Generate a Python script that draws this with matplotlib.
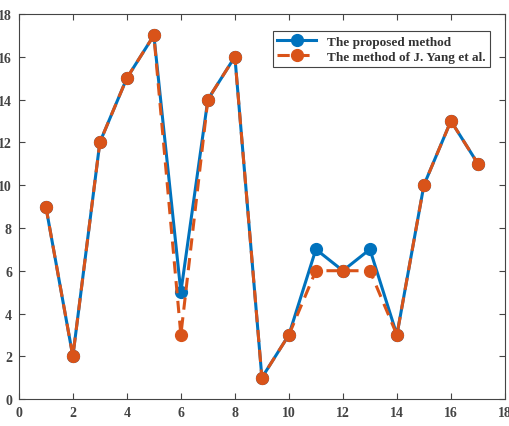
import numpy as np
import matplotlib.pyplot as plt

x = np.arange(1, 18)
proposed = [9, 2, 12, 15, 17, 5, 14, 16, 1, 3, 7, 6, 7, 3, 10, 13, 11]
yang = [9, 2, 12, 15, 17, 3, 14, 16, 1, 3, 6, 6, 6, 3, 10, 13, 11]

plt.rcParams['font.family'] = 'Liberation Serif'
plt.rcParams['font.weight'] = 'bold'

fig = plt.figure(figsize=(5.09, 4.27), dpi=100)
ax = fig.add_axes([0.037, 0.063, 0.955, 0.902])

ax.plot(x, proposed, '-o', color='#0072BD', lw=2.2, ms=8.5,
        label='The proposed method')
ax.plot(x, yang, '--o', color='#D95319', lw=2.2, ms=8.5,
        dashes=(4, 2.5), label='The method of J. Yang et al.')

ax.set_xlim(0, 18)
ax.set_ylim(0, 18)
ax.set_xticks(np.arange(0, 19, 2))
ax.set_yticks(np.arange(0, 19, 2))
ax.tick_params(direction='in', top=True, right=True, labelsize=10,
               colors='#444444', length=4, width=0.8, pad=5)
for s in ax.spines.values():
    s.set_color('#444444')
    s.set_linewidth(0.8)

leg = ax.legend(loc='upper right', fontsize=9.5, fancybox=False,
                edgecolor='#444444', framealpha=1, borderpad=0.3,
                labelspacing=0.25, handlelength=3,
                bbox_to_anchor=(0.982, 0.972))
leg.get_frame().set_linewidth(0.8)
for t in leg.get_texts():
    t.set_color('#333333')

fig.savefig('out.png', dpi=100)
